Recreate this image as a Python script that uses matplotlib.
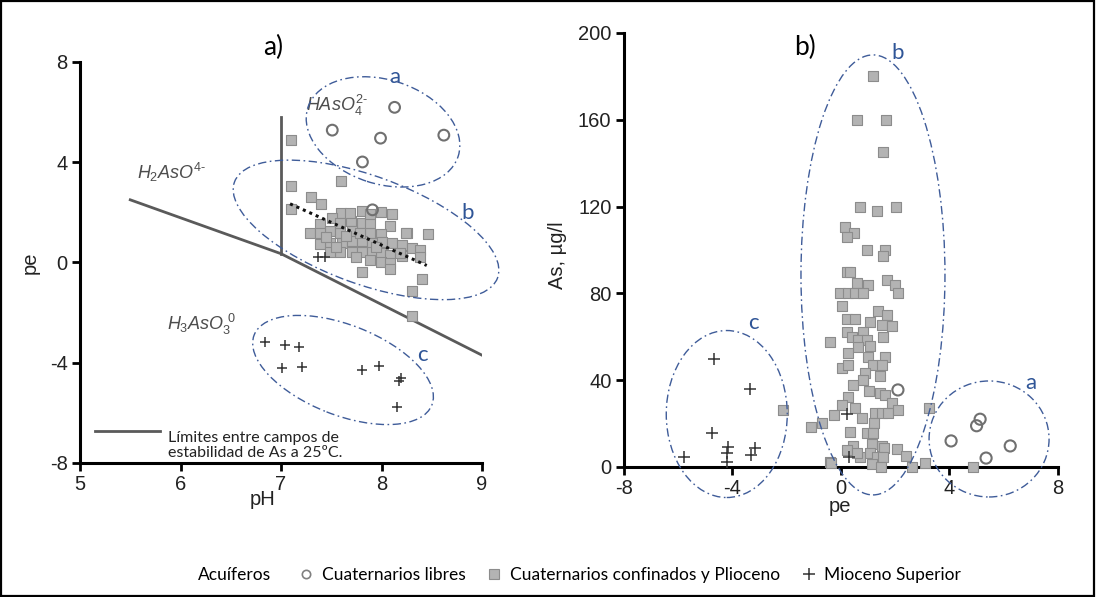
import numpy as np
import matplotlib
matplotlib.use("Agg")
import matplotlib.pyplot as plt
from matplotlib.patches import Ellipse, Rectangle
from matplotlib.lines import Line2D
from matplotlib.transforms import IdentityTransform

plt.rcParams["font.family"] = ["Liberation Sans", "DejaVu Sans"]
plt.rcParams["axes.unicode_minus"] = False
plt.rcParams["mathtext.fontset"] = "custom"
plt.rcParams["mathtext.rm"] = "Liberation Sans"
plt.rcParams["mathtext.it"] = "Liberation Sans:italic"

# ---------------- panel a) pH vs pe ----------------
a_circ_ph = [8.13, 7.51, 7.99, 8.62, 7.81, 7.91]
a_circ_pe = [6.19, 5.28, 4.96, 5.08, 4.01, 2.10]

a_plus_ph = [6.84, 7.04, 7.18, 7.01, 7.21, 7.81, 7.97, 8.17, 8.19, 8.15, 7.37, 7.44]
a_plus_pe = [-3.17, -3.29, -3.37, -4.20, -4.17, -4.29, -4.13, -4.72, -4.60, -5.75, 0.20, 0.20]

a_sq_ph = [7.10, 7.10, 7.10, 7.60, 7.30, 7.40, 8.46, 8.25, 7.81, 8.40, 8.30, 8.30,
           7.81, 7.99, 8.10, 7.60, 7.51, 7.70, 7.81, 8.08, 7.39, 7.29, 7.49, 7.59,
           7.71, 7.89, 7.99, 8.24, 7.49, 7.61, 7.71, 7.81, 7.91, 8.00, 8.10, 8.20,
           8.30, 8.38, 7.39, 7.59, 7.71, 7.81, 7.91, 7.99, 8.08, 8.20, 8.38, 7.89,
           7.99, 8.08, 8.08, 7.39, 7.79, 7.59, 7.89, 7.69, 7.89, 8.18, 7.49, 7.65,
           7.55, 7.95, 7.45, 7.75]
a_sq_pe = [4.88, 3.06, 2.14, 3.25, 2.62, 2.34, 1.15, 1.19, -0.40, -0.67, -1.15, -2.14,
           2.06, 2.02, 1.94, 1.98, 1.79, 1.67, 1.59, 1.47, 1.55, 1.19, 1.27, 1.19,
           1.27, 1.19, 1.15, 1.19, 0.79, 0.79, 0.87, 0.87, 0.79, 0.83, 0.79, 0.71,
           0.56, 0.48, 0.75, 0.40, 0.40, 0.40, 0.40, 0.36, 0.28, 0.24, 0.20, 0.08,
           0.00, -0.04, -0.28, 1.19, 1.19, 1.59, 1.59, 1.98, 1.94, 0.36, 0.40, 1.05,
           0.60, 0.60, 1.00, 0.20]

# stability field boundaries and trend line
bound_ph = [5.5, 7.0, 9.0]
bound_pe = [2.5, 0.35, -3.7]
vert_ph = [7.0, 7.0]
vert_pe = [0.35, 5.8]
trend_ph = [7.09, 8.45]
trend_pe = [2.34, -0.12]

# ---------------- panel b) pe vs As ----------------
b_circ_pe = [2.1, 5.13, 5.0, 4.06, 6.24, 5.35]
b_circ_as = [35.5, 22, 19, 12, 9.7, 4.1]

b_plus_pe = [-4.69, -3.36, -4.76, -5.79, -4.17, -4.21, -3.17, -3.32, -4.21, 0.22, 0.30]
b_plus_as = [49.8, 36, 15.7, 4.6, 9.2, 6.4, 8.8, 5.5, 2.3, 24.4, 4.6]

b_sq_pe = [1.18, 0.59, 1.66, 1.55, 0.70, 1.33, 2.03, 0.15, 0.48, 0.22, 0.96, 1.62,
           1.55, 0.22, 0.33, 0.59, 1.00, 1.70, 2.00, 2.10, -0.04, 0.26, 0.52, 0.81,
           0.04, 1.37, 1.70, 0.22, 0.52, 1.07, 1.51, 1.88, 0.22, 0.81, 1.55, -0.41,
           0.41, 0.63, 0.96, 1.07, 0.63, 0.26, 1.00, 1.62, 0.04, 0.26, 1.18, 1.51,
           0.89, 1.44, 0.81, 0.44, 1.03, 1.44, 1.62, 0.26, 1.88, 0.04, 0.52, 1.25,
           1.51, 1.73, 2.10, -0.26, 0.77, 1.22, 0.33, 0.96, 1.18, 0.44, 1.14, 1.51,
           1.59, 2.07, 2.40, 0.22, 0.70, 1.07, 1.33, 1.55, 1.14, 1.48, -0.41, 2.62,
           3.10, 0.59, 3.25, -2.14, -1.10, -0.70, -0.37, 4.87]
b_sq_as = [180, 160, 160, 145, 120, 118, 120, 110.6, 108, 106, 100, 100,
           97, 90, 90, 85, 84, 86, 84, 80, 80, 80, 80, 80,
           74, 72, 70, 68, 68, 67, 65.5, 65, 62, 62, 60, 57.6,
           60, 58.5, 58.5, 55.8, 55.3, 52.5, 50.7, 50.7, 45.6, 47, 47, 47,
           43.3, 42, 40, 38, 35, 34, 33, 32.3, 29.5, 28.6, 27.2, 25,
           25, 25, 26.3, 24, 22.6, 20.3, 16, 15.7, 15.7, 9.7, 10.6, 9.7,
           8.8, 8.3, 5, 7.8, 4.6, 6.4, 4.6, 4.6, 1.4, 0, 2.3, 0,
           1.8, 6.4, 27, 26.3, 18.4, 20.3, 1.8, 0]

BLUE = "#2f5597"
RING = "#3f5c99"
SQ_FACE = "#b3b3b3"
SQ_EDGE = "#8c8c8c"
CALIBRI = ["Lato", "DejaVu Sans"]

fig = plt.figure(figsize=(10.96, 5.97), dpi=100)
ax1 = fig.add_axes([0.0730, 0.2245, 0.3668, 0.6717])
ax2 = fig.add_axes([0.5693, 0.2178, 0.3960, 0.7270])


def style_axes(ax):
    for s in ("top", "right"):
        ax.spines[s].set_visible(False)
    for s in ("left", "bottom"):
        ax.spines[s].set_linewidth(2.2)
    ax.tick_params(direction="out", length=6, width=2, labelsize=14.5,
                   labelcolor="#222222", pad=3)


def ring(ax, cx, cy, w, h, ang=0):
    x0, y0 = ax.transData.transform((cx, cy))
    e = Ellipse((x0, y0), w, h, angle=ang, transform=IdentityTransform(),
                fill=False, ec=RING, lw=1.0, ls=(0, (6, 2.5, 1.2, 2.5)),
                clip_on=False)
    fig.add_artist(e)


# ---- panel a ----
ax1.set_xlim(5, 9)
ax1.set_ylim(-8, 8)
ax1.set_xticks([5, 6, 7, 8, 9])
ax1.set_yticks([-8, -4, 0, 4, 8])
style_axes(ax1)

ax1.plot(bound_ph, bound_pe, color="#5a5a5a", lw=2)
ax1.plot(vert_ph, vert_pe, color="#5a5a5a", lw=2)
ax1.scatter(a_sq_ph, a_sq_pe, marker="s", s=48, c=SQ_FACE, edgecolors=SQ_EDGE,
            linewidths=0.8, zorder=3)
ax1.plot(trend_ph, trend_pe, color="#111111", lw=2.2, ls=(0, (1, 1.3)), zorder=4)
ax1.scatter(a_circ_ph, a_circ_pe, marker="o", s=60, facecolors="none",
            edgecolors="#707070", linewidths=1.5, zorder=5)
ax1.scatter(a_plus_ph, a_plus_pe, marker="+", s=60, c="#333333",
            linewidths=1.1, zorder=5)

spec_kw = dict(fontsize=13, color="#4d4d4d", va="center", ha="left")
ax1.text(7.25, 6.28, r"$\mathit{HAsO_4^{2\text{-}}}$", **spec_kw)
ax1.text(5.57, 3.61, r"$\mathit{H_2AsO^{4\text{-}}}$", **spec_kw)
ax1.text(5.87, -2.49, r"$\mathit{H_3AsO_3^{\ 0}}$", **spec_kw)

ax1.set_xlabel("pH", fontsize=14.5, color="#222222")
ax1.xaxis.set_label_coords(0.453, -0.068)
ax1.set_ylabel("pe", fontsize=14.5, color="#222222")
ax1.yaxis.set_label_coords(-0.10, 0.50)

# in-panel legend for the boundary lines
ax1.plot([0.037, 0.199], [0.080, 0.080], transform=ax1.transAxes,
         color="#5a5a5a", lw=2)
ax1.text(0.219, 0.080, "Límites entre campos de\nestabilidad de As a 25ºC.",
         transform=ax1.transAxes, family=CALIBRI, fontsize=11.5,
         va="top", ha="left", linespacing=1.1, color="#222222",
         bbox=dict(fc="none", ec="none", pad=0))

ring(ax1, 8.015, 5.21, 158, 104, -18)
ring(ax1, 7.846, 1.30, 280, 108, -20)
ring(ax1, 7.617, -4.29, 191, 90, -21.5)
lab_kw = dict(family=CALIBRI, fontsize=16, color=BLUE, ha="center", va="center")
ax1.text(8.13, 7.40, "a", **lab_kw)
ax1.text(8.86, 1.97, "b", **lab_kw)
ax1.text(8.41, -3.69, "c", **lab_kw)

# ---- panel b ----
ax2.set_xlim(-8, 8)
ax2.set_ylim(0, 200)
ax2.set_xticks([-8, -4, 0, 4, 8])
ax2.set_yticks([0, 40, 80, 120, 160, 200])
style_axes(ax2)

ax2.scatter(b_sq_pe, b_sq_as, marker="s", s=58, c=SQ_FACE, edgecolors=SQ_EDGE,
            linewidths=0.8, zorder=3, clip_on=False)
ax2.scatter(b_circ_pe, b_circ_as, marker="o", s=64, facecolors="none",
            edgecolors="#707070", linewidths=1.5, zorder=5)
ax2.scatter(b_plus_pe, b_plus_as, marker="+", s=70, c="#333333",
            linewidths=1.1, zorder=5)

ax2.set_xlabel("pe", fontsize=14.5, color="#222222")
ax2.xaxis.set_label_coords(0.498, -0.070)
ax2.set_ylabel("As, µg/l", fontsize=14.5, color="#222222")
ax2.yaxis.set_label_coords(-0.132, 0.488)

ring(ax2, -4.21, 24.4, 121, 167)
ring(ax2, 1.18, 88.5, 144, 440)
ring(ax2, 5.46, 12.9, 120, 116)
ax2.text(-3.21, 66.4, "c", **lab_kw)
ax2.text(2.10, 190.8, "b", **lab_kw)
ax2.text(7.01, 38.7, "a", **lab_kw)

# panel titles
fig.text(0.249, 0.920, "a)", family=CALIBRI, fontsize=19, ha="center", va="center")
fig.text(0.7345, 0.920, "b)", family=CALIBRI, fontsize=19, ha="center", va="center")

# shared legend at the bottom
handles = [
    Line2D([], [], ls="none", marker="o", ms=6, mfc="none", mec="#808080", mew=1.2),
    Line2D([], [], ls="none", marker="s", ms=6.5, mfc=SQ_FACE, mec=SQ_EDGE, mew=0.8),
    Line2D([], [], ls="none", marker="+", ms=8, mec="#333333", mew=1.1),
]
labels = ["Cuaternarios libres", "Cuaternarios confinados y Plioceno", "Mioceno Superior"]
fig.text(0.1807, 0.037, "Acuíferos", family=CALIBRI, fontsize=12.5,
         ha="left", va="center")
fig.legend(handles, labels, loc="center left", bbox_to_anchor=(0.273, 0.037),
           ncol=3, frameon=False, prop=dict(family=CALIBRI, size=12.5),
           handlelength=0.8, handletextpad=0.5, columnspacing=1.25,
           borderpad=0, borderaxespad=0)

# outer frame
fig.add_artist(Rectangle((0.001, 0.002), 0.997, 0.996, transform=fig.transFigure,
                         fill=False, ec="black", lw=1.6))

fig.savefig("out.png", dpi=100)
